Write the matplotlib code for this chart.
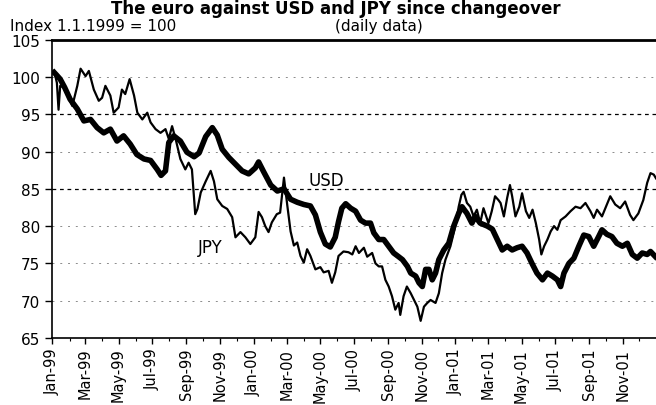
import matplotlib
matplotlib.use("Agg")
import matplotlib.pyplot as plt
import matplotlib.dates as mdates
import numpy as np
import pandas as pd

# euro index vs USD and JPY (days since 1 Jan 1999)
usd_days = [3, 8, 14, 22, 32, 45, 57, 69, 81, 93, 105, 117, 129, 141, 153, 166, 178, 190,
            197, 205, 211, 220, 232, 244, 257, 266, 278, 290, 299, 308, 320, 332, 344, 356,
            368, 374, 383, 396, 408, 420, 432, 444, 456, 468, 477, 486, 495, 504, 513, 519,
            525, 532, 541, 550, 559, 568, 577, 583, 592, 601, 610, 619, 628, 635, 644, 650,
            659, 665, 671, 677, 683, 689, 695, 701, 710, 719, 728, 737, 743, 752, 761, 767,
            776, 789, 798, 807, 816, 825, 834, 843, 852, 861, 870, 879, 889, 898, 907, 916,
            922, 928, 937, 946, 955, 964, 973, 982, 991, 997, 1006, 1015, 1024, 1034, 1043,
            1052, 1061, 1070, 1079, 1085, 1094]
usd_vals = [100.6, 100.2, 99.7, 98.6, 97.0, 95.7, 94.1, 94.3, 93.2, 92.5, 93.0, 91.4, 92.1,
            91.0, 89.6, 89.0, 88.8, 87.6, 86.8, 87.4, 91.2, 92.1, 91.4, 89.9, 89.3, 89.8,
            92.0, 93.2, 92.2, 90.3, 89.2, 88.3, 87.4, 87.0, 87.8, 88.6, 87.3, 85.5, 84.7,
            85.0, 83.6, 83.2, 82.9, 82.7, 81.5, 79.2, 77.6, 77.2, 78.5, 80.6, 82.4, 83.0,
            82.4, 82.0, 80.8, 80.4, 80.4, 79.1, 78.2, 78.2, 77.3, 76.4, 75.9, 75.5, 74.6,
            73.7, 73.3, 72.4, 71.9, 74.2, 74.2, 72.8, 73.7, 75.5, 76.8, 77.7, 80.0, 81.7,
            82.6, 81.7, 80.4, 81.3, 80.4, 80.0, 79.6, 78.2, 76.8, 77.3, 76.8, 77.1, 77.3,
            76.4, 75.0, 73.7, 72.8, 73.7, 73.3, 72.8, 71.9, 73.7, 75.0, 75.7, 77.3, 78.8,
            78.6, 77.3, 78.6, 79.5, 78.9, 78.6, 77.7, 77.3, 77.7, 76.2, 75.7, 76.4, 76.2,
            76.6, 75.9]

jpy_days = [3, 8, 11, 14, 20, 27, 36, 45, 51, 60, 66, 75, 84, 90, 96, 105, 111, 120, 126,
            132, 140, 148, 154, 163, 172, 178, 187, 196, 205, 211, 217, 224, 232, 241, 247,
            253, 256, 259, 263, 269, 278, 287, 293, 299, 308, 317, 326, 332, 341, 350, 359,
            368, 374, 380, 386, 392, 398, 407, 413, 420, 426, 432, 438, 444, 450, 456, 462,
            468, 477, 486, 492, 501, 507, 513, 519, 528, 537, 544, 550, 556, 565, 571, 580,
            586, 592, 598, 604, 610, 616, 622, 628, 631, 637, 643, 650, 656, 662, 668, 674,
            680, 686, 695, 701, 707, 713, 722, 731, 737, 742, 746, 752, 758, 764, 770, 776,
            782, 791, 797, 803, 809, 813, 819, 825, 830, 834, 840, 847, 852, 859, 865, 871,
            877, 883, 887, 892, 898, 904, 910, 916, 922, 931, 940, 949, 958, 967, 976, 982,
            988, 997, 1006, 1012, 1021, 1030, 1039, 1048, 1054, 1063, 1072, 1079, 1085,
            1091, 1095]
jpy_vals = [100.8, 99.2, 95.6, 98.8, 98.6, 97.5, 96.1, 98.8, 101.1, 100.1, 100.8, 98.3,
            96.8, 97.2, 98.8, 97.5, 95.2, 95.9, 98.3, 97.7, 99.7, 97.5, 95.2, 94.3, 95.2,
            93.9, 93.0, 92.5, 93.0, 91.7, 93.4, 91.5, 89.0, 87.6, 88.5, 87.6, 84.5, 81.6,
            82.3, 84.5, 86.0, 87.4, 86.0, 83.6, 82.7, 82.3, 81.2, 78.5, 79.2, 78.5, 77.6,
            78.5, 81.9, 81.2, 80.0, 79.2, 80.5, 81.6, 81.8, 86.5, 82.8, 79.3, 77.4, 77.8,
            76.0, 75.1, 76.9, 76.0, 74.2, 74.5, 73.8, 74.0, 72.4, 73.8, 76.0, 76.6, 76.5,
            76.2, 77.3, 76.4, 77.1, 75.9, 76.4, 75.0, 74.6, 74.6, 72.8, 71.9, 70.6, 68.8,
            69.7, 68.1, 70.6, 71.9, 71.0, 70.1, 69.2, 67.3, 69.2, 69.7, 70.1, 69.7, 71.0,
            73.7, 75.5, 77.3, 80.0, 82.6, 84.2, 84.6, 83.1, 82.6, 81.3, 82.2, 80.4, 82.4,
            80.4, 82.0, 84.0, 83.5, 83.1, 81.3, 83.8, 85.5, 84.0, 81.3, 82.6, 84.4, 82.0,
            81.1, 82.2, 80.4, 78.2, 76.2, 77.3, 78.2, 79.3, 80.0, 79.5, 80.8, 81.3, 82.0,
            82.6, 82.4, 83.1, 82.0, 81.1, 82.2, 81.3, 82.9, 84.0, 82.9, 82.4, 83.3, 81.5,
            80.8, 81.7, 83.5, 85.8, 87.1, 86.9, 86.4]

yticks = [65, 70, 75, 80, 85, 90, 95, 100, 105]

start = pd.Timestamp("1999-01-01")
usd_dates = start + pd.to_timedelta(usd_days, unit="D")
jpy_dates = start + pd.to_timedelta(jpy_days, unit="D")

fig = plt.figure(figsize=(6.56, 4.06), dpi=100)
ax = fig.add_axes([0.080, 0.165, 0.920, 0.735])

# grid: dashed at 95/85, faint dotted elsewhere
for y in [70, 75, 80, 90, 100]:
    ax.axhline(y, color="0.55", lw=0.7, ls=(0, (2, 6)), zorder=1)
for y in [85, 95]:
    ax.axhline(y, color="black", lw=0.9, ls=(0, (3, 3)), zorder=1)

ax.plot(usd_dates, usd_vals, color="black", lw=4.0, solid_joinstyle="round", zorder=3)
ax.plot(jpy_dates, jpy_vals, color="black", lw=1.6, solid_joinstyle="round", zorder=4)

ax.text(pd.Timestamp("2000-05-12"), 86.2, "USD", fontsize=12, ha="center", va="center")
ax.text(pd.Timestamp("1999-10-15"), 77.2, "JPY", fontsize=12, ha="center", va="center")

ax.set_xlim(pd.Timestamp("1999-01-01"), pd.Timestamp("2001-12-31"))
ax.set_ylim(65, 105)
ax.set_yticks(yticks)

ax.xaxis.set_major_locator(mdates.MonthLocator(bymonth=[1, 3, 5, 7, 9, 11]))
ax.xaxis.set_major_formatter(mdates.DateFormatter("%b-%y"))
ax.xaxis.set_minor_locator(mdates.MonthLocator())
plt.setp(ax.get_xticklabels(), rotation=90, ha="center", va="top")

ax.tick_params(axis="y", labelsize=11, length=5, width=1, direction="out", pad=4)
ax.tick_params(axis="x", which="major", labelsize=10.5, length=4, width=1, pad=3)
ax.tick_params(axis="x", which="minor", length=2, width=0.8)

ax.spines["right"].set_visible(False)
ax.spines["top"].set_linewidth(2)
for s in ["left", "bottom"]:
    ax.spines[s].set_linewidth(1.2)

fig.text(0.512, 0.999, "The euro against USD and JPY since changeover",
         fontsize=12, fontweight="bold", ha="center", va="top")
fig.text(0.015, 0.935, "Index 1.1.1999 = 100", fontsize=11, ha="left", va="center")
fig.text(0.577, 0.935, "(daily data)", fontsize=11, ha="center", va="center")

fig.savefig("out.png", dpi=100)
